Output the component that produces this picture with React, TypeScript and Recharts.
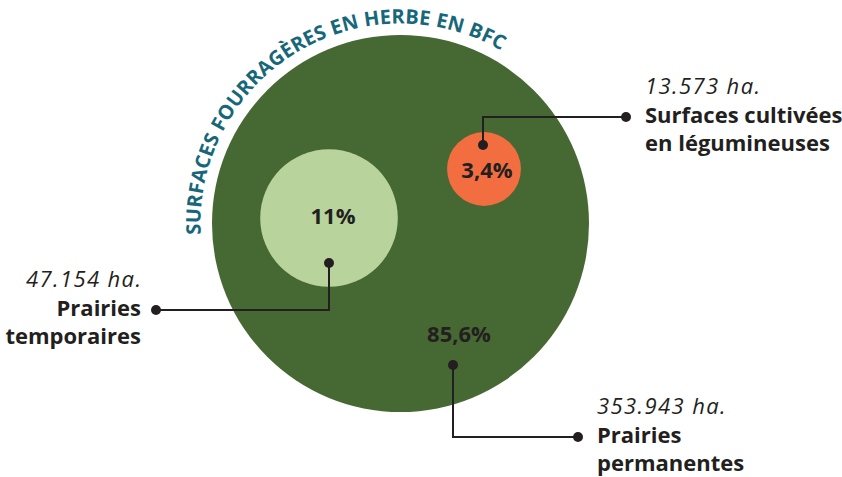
import React from 'react';
import { ScatterChart, Scatter, XAxis, YAxis, ZAxis } from 'recharts';

// ---- data ----
const categories = ['Prairies permanentes', 'Prairies temporaires', 'Surfaces cultivées en légumineuses'];
const nameLines = [
  ['Prairies', 'permanentes'],
  ['Prairies', 'temporaires'],
  ['Surfaces cultivées', 'en légumineuses'],
];
const hectares = [353943, 47154, 13573];
const hectareLabels = ['353.943 ha.', '47.154 ha.', '13.573 ha.'];
const percents = [85.6, 11, 3.4];
const percentLabels = ['85,6%', '11%', '3,4%'];
const title = 'SURFACES FOURRAGÈRES EN HERBE EN BFC';

// ---- layout (chart units on a 842 x 477 grid) ----
const bubbleCenters = [
  { x: 400.5, y: 223.5 },
  { x: 329, y: 218 },
  { x: 484, y: 169 },
];
const percentPositions = [
  { x: 459, y: 334 },
  { x: 333, y: 216 },
  { x: 487, y: 170 },
];
const leaderRoutes = [
  [{ x: 453, y: 365 }, { x: 453, y: 437 }, { x: 578, y: 437 }],
  [{ x: 329, y: 263 }, { x: 329, y: 310 }, { x: 156, y: 310 }],
  [{ x: 483, y: 145 }, { x: 483, y: 117 }, { x: 626, y: 117 }],
];
const labelSides = ['right', 'left', 'right'];

// ---- styles ----
const colors = ['#466832', '#b8d49c', '#f26e41'];
const ink = '#231f20';
const teal = '#17677a';
const font = "'Open Sans', 'Noto Sans', sans-serif";
const TITLE_GAP = 11.5;
const ARC_START = 177.3;
const ARC_END = 299.8;
const MAX_AREA = Math.PI * 188.5 * 188.5;

const bubbleData = categories.map((name, i) => ({
  name,
  x: bubbleCenters[i].x,
  y: bubbleCenters[i].y,
  z: hectares[i],
  idx: i,
}));

const percentData = percentLabels.map((label, i) => ({
  x: percentPositions[i].x,
  y: percentPositions[i].y,
  label,
  value: percents[i],
}));

const TitleArc = ({ cx, cy, r }: { cx: number; cy: number; r: number }) => {
  const a1 = (ARC_START * Math.PI) / 180;
  const a2 = (ARC_END * Math.PI) / 180;
  const d = `M ${cx + r * Math.cos(a1)} ${cy + r * Math.sin(a1)} A ${r} ${r} 0 0 1 ${cx + r * Math.cos(a2)} ${cy + r * Math.sin(a2)}`;
  return (
    <g>
      <path id="titleArc" d={d} fill="none" stroke="none" />
      <text fontFamily={font} fontWeight={700} fontSize={20} fill={teal} letterSpacing={0.15}>
        <textPath href="#titleArc" startOffset="50%" textAnchor="middle">
          {title}
        </textPath>
      </text>
    </g>
  );
};

const BubbleShape = (props: any) => {
  const { cx, cy, size, width, payload } = props;
  const r = size !== undefined ? Math.sqrt(Math.max(size, 0) / Math.PI) : (width || 0) / 2;
  return (
    <g>
      <circle cx={cx} cy={cy} r={r} fill={colors[payload.idx]} />
      {payload.idx === 0 && <TitleArc cx={cx} cy={cy} r={r + TITLE_GAP} />}
    </g>
  );
};

const PercentShape = (props: any) => {
  const { cx, cy, payload } = props;
  return (
    <text x={cx} y={cy + 8} textAnchor="middle" fontFamily={font} fontWeight={700} fontSize={22} fill={ink}>
      {payload.label}
    </text>
  );
};

const makeRouteShape = (i: number) => (props: any) => {
  const { cx, cy, payload } = props;
  if (payload.kind === 'start') return <circle cx={cx} cy={cy} r={5} fill={ink} />;
  if (payload.kind === 'end') {
    const right = labelSides[i] === 'right';
    const tx = right ? cx + 19 : cx - 15;
    const anchor = right ? 'start' : 'end';
    return (
      <g>
        <circle cx={cx} cy={cy} r={5} fill={ink} />
        <text
          x={right ? tx : tx + 1.4}
          y={cy - 23}
          textAnchor={anchor}
          fontFamily={font}
          fontStyle="italic"
          fontWeight={400}
          fontSize={22}
          letterSpacing={1.4}
          fill={ink}
        >
          {hectareLabels[i]}
        </text>
        <text x={tx} y={cy + 6} textAnchor={anchor} fontFamily={font} fontWeight={700} fontSize={22} fill={ink}>
          {nameLines[i][0]}
        </text>
        <text x={tx} y={cy + 34} textAnchor={anchor} fontFamily={font} fontWeight={700} fontSize={22} fill={ink}>
          {nameLines[i][1]}
        </text>
      </g>
    );
  }
  return <g />;
};

const routeData = leaderRoutes.map((route) =>
  route.map((p, j) => ({ x: p.x, y: p.y, kind: j === 0 ? 'start' : j === route.length - 1 ? 'end' : 'bend' }))
);

export default function App() {
  return (
    <div style={{ position: 'absolute', left: 0, top: 0, width: 842, height: 477, background: '#ffffff' }}>
      <ScatterChart width={842} height={477} margin={{ top: 0, right: 0, bottom: 0, left: 0 }}>
        <XAxis type="number" dataKey="x" domain={[0, 842]} hide />
        <YAxis type="number" dataKey="y" domain={[0, 477]} reversed hide />
        <ZAxis type="number" dataKey="z" domain={[0, hectares[0]]} range={[0, MAX_AREA]} />
        <Scatter data={bubbleData} shape={BubbleShape} isAnimationActive={false} />
        <Scatter data={percentData} shape={PercentShape} isAnimationActive={false} />
        {routeData.map((data, i) => (
          <Scatter
            key={i}
            data={data}
            line={{ stroke: ink, strokeWidth: 2 }}
            lineType="joint"
            shape={makeRouteShape(i)}
            isAnimationActive={false}
          />
        ))}
      </ScatterChart>
    </div>
  );
}
